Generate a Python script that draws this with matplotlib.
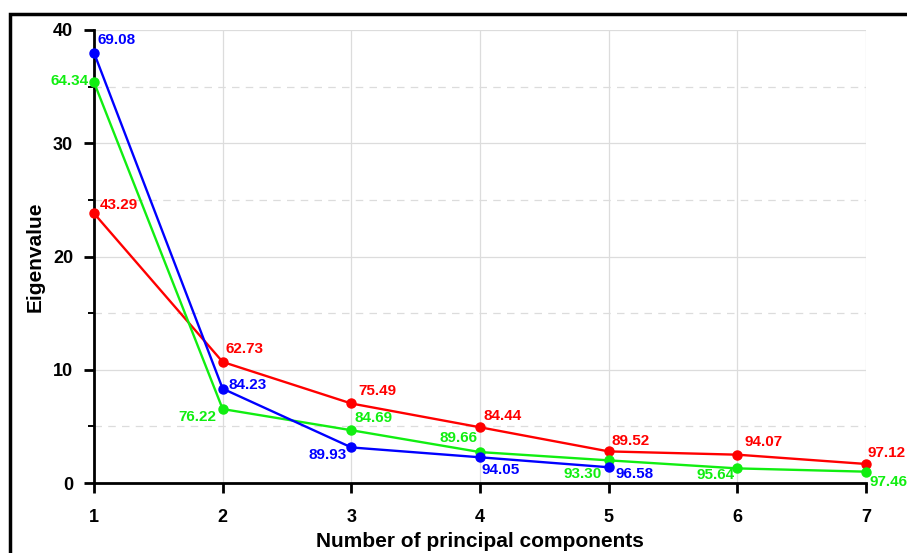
import matplotlib.pyplot as plt
from matplotlib.patches import Rectangle

plt.rcParams['font.family'] = ['Liberation Sans', 'DejaVu Sans']
plt.rcParams['font.weight'] = 'bold'

components = [1, 2, 3, 4, 5, 6, 7]

# eigenvalues per dataset
eig_blue = [37.99, 8.33, 3.14, 2.27, 1.39]
eig_green = [35.39, 6.53, 4.66, 2.73, 2.00, 1.29, 1.00]
eig_red = [23.81, 10.69, 7.02, 4.92, 2.79, 2.50, 1.68]

# cumulative explained variance (%) shown next to each point
cum_blue = ['69.08', '84.23', '89.93', '94.05', '96.58']
cum_green = ['64.34', '76.22', '84.69', '89.66', '93.30', '95.64', '97.46']
cum_red = ['43.29', '62.73', '75.49', '84.44', '89.52', '94.07', '97.12']

# label offsets in pixels and horizontal alignment
off_blue = [(3, 13, 'left'), (6, 4, 'left'), (-5, -8, 'right'), (2, -13, 'left'), (7, -7, 'left')]
off_green = [(-5, 1, 'right'), (-6, -8, 'right'), (3, 12, 'left'), (-3, 14, 'right'),
             (-7, -14, 'right'), (-3, -7, 'right'), (4, -10, 'left')]
off_red = [(6, 8, 'left'), (3, 13, 'left'), (7, 12, 'left'), (4, 11, 'left'),
           (3, 10, 'left'), (7, 13, 'left'), (1, 11, 'left')]

fig = plt.figure(figsize=(9.07, 5.53), dpi=100)
ax = fig.add_axes([94/907, 1-483/553, (866-94)/907, (483-30)/553])

# outer frame around the figure
fig.patches.append(Rectangle((10/907, -0.2), 1.2, 1.2 - 14/553, transform=fig.transFigure,
                             fill=False, edgecolor='black', linewidth=2.5, clip_on=False))

series = [
    (eig_red, cum_red, off_red, '#ff0000'),
    (eig_green, cum_green, off_green, '#11ee11'),
    (eig_blue, cum_blue, off_blue, '#0000ff'),
]
for vals, labels, offs, col in series:
    xs = components[:len(vals)]
    ax.plot(xs, vals, color=col, lw=1.7, marker='o', ms=6.5, zorder=3, clip_on=False)
    for x, y, lab, (dx, dy, ha) in zip(xs, vals, labels, offs):
        ax.annotate(lab, (x, y), xytext=(dx, dy), textcoords='offset pixels',
                    ha=ha, va='center', color=col, fontsize=11, fontweight='bold',
                    zorder=4, annotation_clip=False)

ax.set_xlim(1, 7)
ax.set_ylim(0, 40)
ax.set_xticks(components)
ax.set_yticks([0, 10, 20, 30, 40])
ax.set_yticks([5, 15, 25, 35], minor=True)

ax.grid(True, which='major', color='#dcdcdc', lw=0.9)
ax.grid(True, which='minor', axis='y', color='#dcdcdc', lw=0.9, ls=(0, (6, 5)))
ax.set_axisbelow(True)

for s in ['top', 'right']:
    ax.spines[s].set_visible(False)
for s in ['left', 'bottom']:
    ax.spines[s].set_linewidth(2)

ax.tick_params(which='major', direction='out', length=7, width=2, labelsize=13)
ax.tick_params(axis='x', which='major', pad=12)
ax.tick_params(axis='y', which='major', pad=8)
ax.tick_params(which='minor', direction='out', length=4, width=1.4)

ax.set_xlabel('Number of principal components', fontsize=15, fontweight='bold', labelpad=4)
ax.set_ylabel('Eigenvalue', fontsize=15, fontweight='bold', labelpad=6)

fig.savefig('out.png', dpi=100)
